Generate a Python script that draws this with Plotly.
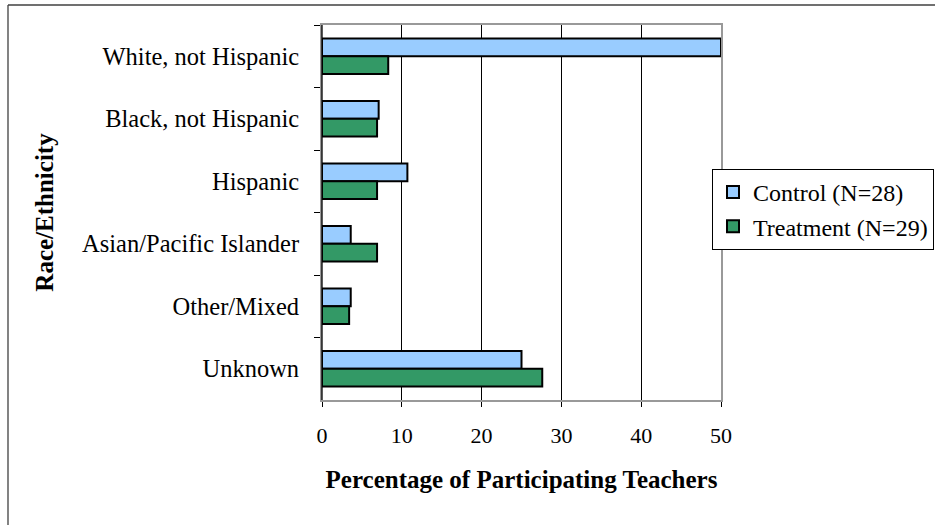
import plotly.graph_objects as go

categories = ["White, not Hispanic", "Black, not Hispanic", "Hispanic",
              "Asian/Pacific Islander", "Other/Mixed", "Unknown"]
control = [50.0, 7.1, 10.7, 3.6, 3.6, 25.0]
treatment = [8.3, 6.9, 6.9, 6.9, 3.4, 27.6]
series_names = ["Control (N=28)", "Treatment (N=29)"]
x_ticks = [0, 10, 20, 30, 40, 50]

FONT = "Liberation Serif"
L, R, T, B = 322, 214, 25, 125
W, H = 935, 525
pw, ph = W - L - R, H - T - B

fig = go.Figure()
fig.add_trace(go.Bar(y=categories, x=control, orientation="h", name=series_names[0],
                     marker=dict(color="#99CCFF", line=dict(color="black", width=2))))
fig.add_trace(go.Bar(y=categories, x=treatment, orientation="h", name=series_names[1],
                     marker=dict(color="#339966", line=dict(color="black", width=2))))

def px_x(p):
    return (p - L) / pw

def px_y(p):
    return (H - B - p) / ph

shapes = [
    dict(type="line", xref="paper", yref="paper", x0=0, x1=0, y0=0, y1=1,
         line=dict(color="black", width=1.3)),
    dict(type="line", xref="paper", yref="paper", x0=px_x(8), x1=px_x(8),
         y0=px_y(5), y1=px_y(530), line=dict(color="#404040", width=1.3)),
    dict(type="line", xref="paper", yref="paper", x0=px_x(8), x1=px_x(940),
         y0=px_y(5), y1=px_y(5), line=dict(color="#404040", width=1.3)),
]

fig.update_layout(
    width=W, height=H,
    margin=dict(l=L, r=R, t=T, b=B, autoexpand=False),
    paper_bgcolor="white", plot_bgcolor="white",
    barmode="group", bargap=0.435, bargroupgap=0,
    font=dict(family=FONT, size=24.5, color="black"),
    shapes=shapes,
    legend=dict(x=px_x(712), xanchor="left", y=px_y(169), yanchor="top",
                bgcolor="white", bordercolor="black", borderwidth=1,
                font=dict(family=FONT, size=24), itemwidth=30),
    xaxis=dict(range=[0, 50], tickvals=x_ticks, showgrid=True, gridcolor="black",
               gridwidth=1, showline=True, linecolor="#999999", linewidth=2, mirror=True,
               ticks="outside", ticklen=5, tickcolor="black", zeroline=False,
               ticklabelstandoff=10, tickfont=dict(size=22),
               title=dict(text="<b>Percentage of Participating Teachers</b>",
                          font=dict(family=FONT, size=25), standoff=23)),
    yaxis=dict(autorange="reversed", showline=True, linecolor="#999999", linewidth=2,
               mirror=True, ticks="outside", ticklen=6, tickcolor="black",
               tickson="boundaries", showgrid=False, ticklabelstandoff=16,
               title=dict(text="<b>Race/Ethnicity</b>",
                          font=dict(family=FONT, size=25), standoff=21)),
)
fig.write_html("out.html", config={"displayModeBar": False},
               post_script="document.body.style.margin='0';")
